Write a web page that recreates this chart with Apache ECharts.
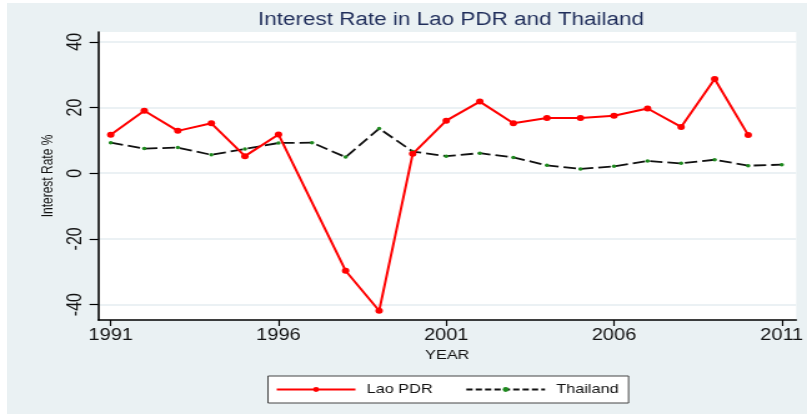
<!DOCTYPE html>
<html><head><meta charset="utf-8">
<script src="https://cdn.jsdelivr.net/npm/echarts@6/dist/echarts.min.js"></script>
<style>
html,body{margin:0;padding:0;background:#fff;overflow:hidden;width:807px;height:414px;}
#bg{position:absolute;left:7px;top:3px;right:0;bottom:0;background:#eaf1f3;}
#chart{position:absolute;left:0;top:0;width:646px;height:414px;transform:scaleX(1.249226);transform-origin:0 0;}
</style></head><body>
<div id="bg"></div>
<div id="chart"></div>
<script>
// ---- data ----
const years = [1991,1992,1993,1994,1995,1996,1997,1998,1999,2000,2001,2002,2003,2004,2005,2006,2007,2008,2009,2010,2011];
const laoRates = [11.7,19.0,12.9,15.2,5.2,11.8,null,-29.7,-41.9,5.9,16.0,21.8,15.2,16.8,16.8,17.5,19.7,14.1,28.7,11.6,null];
const thaiRates = [9.3,7.5,7.8,5.6,7.4,9.2,9.3,4.9,13.6,6.6,5.2,6.1,4.8,2.4,1.3,2.1,3.7,3.0,4.1,2.3,2.6];
const xTicks = [1991,1996,2001,2006,2011];
const yTicks = [-40,-20,0,20,40];
const seriesNames = ['Lao PDR','Thailand'];
const titleText = 'Interest Rate in Lao PDR and Thailand';
const xName = 'YEAR';
const yName = 'Interest Rate %';

const K = 807/646; // horizontal stretch of the reference
const FONT = '"Liberation Sans", Arial, Helvetica, sans-serif';
const chart = echarts.init(document.getElementById('chart'), null, {renderer:'canvas', width:646, height:414});
const option = {
  backgroundColor:'transparent',
  animation:false,
  graphic:[{type:'text', x:451/K, y:20, style:{text:titleText, textAlign:'center', textVerticalAlign:'middle', fontSize:18, fontFamily:FONT, fill:'#1f2d5a'}}],
  grid:{left:98.3/K, right:10/K, top:32, bottom:94, show:true, backgroundColor:'#ffffff', borderWidth:0},
  xAxis:{type:'value', min:1990.63, max:2011.43,
    name:xName, nameLocation:'middle', nameGap:26, nameTextStyle:{fontSize:13, color:'#111', fontFamily:FONT},
    axisLine:{show:true, onZero:false, lineStyle:{color:'#000', width:1.5}},
    axisTick:{show:true, length:6, customValues:xTicks, lineStyle:{color:'#000', width:1.2}},
    axisLabel:{customValues:xTicks, margin:8, fontSize:16, color:'#111', fontFamily:FONT, formatter:v=>String(v)},
    splitLine:{show:false}},
  yAxis:{type:'value', min:-44.7, max:43,
    name:yName, nameLocation:'middle', nameRotate:90, nameGap:34, nameTextStyle:{fontSize:12, color:'#111', fontFamily:FONT},
    axisLine:{show:true, onZero:false, lineStyle:{color:'#000', width:1.6}},
    axisTick:{show:true, length:7, customValues:yTicks, lineStyle:{color:'#000', width:1.2}},
    axisLabel:{customValues:yTicks, rotate:90, margin:10, fontSize:16, color:'#111', fontFamily:FONT},
    splitLine:{show:true, lineStyle:{color:'#e4edf0', width:1.6}}},
  legend:{left:268/K, top:376, orient:'horizontal', backgroundColor:'#fff', borderColor:'#444', borderWidth:1, borderRadius:0,
    padding:[7,8,7,6], itemWidth:63, itemHeight:6, itemGap:26,
    textStyle:{fontSize:13, color:'#111', fontFamily:FONT, padding:[0,0,0,4]},
    data:[{name:seriesNames[0]},{name:seriesNames[1], lineStyle:{type:[5,2.5]}}]},
  series:[
    {name:seriesNames[1], type:'line', data:years.map((y,i)=>[y, thaiRates[i]]), symbol:'circle', symbolSize:3.5,
     itemStyle:{color:'#1e8a1e'}, lineStyle:{color:'#111', width:1.8, type:[10,4]}, z:2},
    {name:seriesNames[0], type:'line', data:years.map((y,i)=>[y, laoRates[i]]), connectNulls:true, symbol:'circle', symbolSize:6,
     itemStyle:{color:'#ff0000'}, lineStyle:{color:'#ff0000', width:2}, z:3}
  ]
};
chart.setOption(option);
</script>
</body></html>
